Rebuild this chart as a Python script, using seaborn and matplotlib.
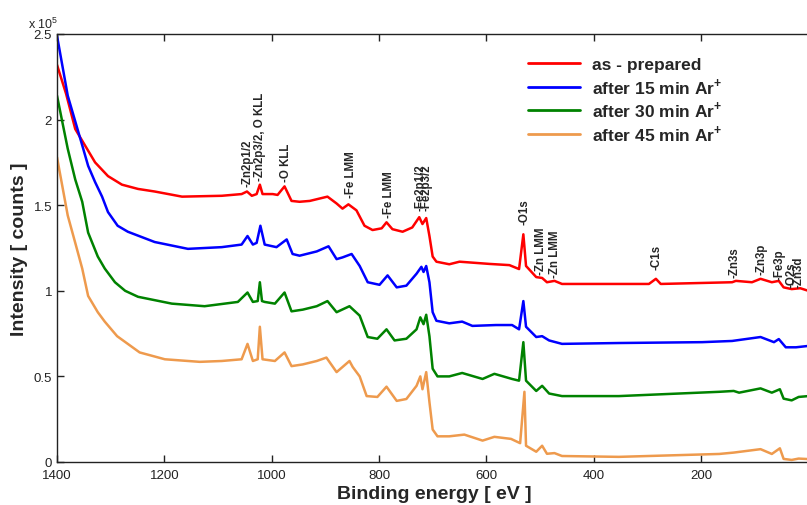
import matplotlib
matplotlib.use("Agg")
import matplotlib.pyplot as plt
from matplotlib.ticker import FuncFormatter
import numpy as np
import pandas as pd
import seaborn as sns

# binding energy [eV] and intensity [x 1e5 counts]
red_E = [1400, 1383, 1366, 1329, 1305, 1279, 1249, 1218, 1167, 1093, 1056, 1046, 1037, 1028, 1022, 1017, 998, 989,
         976, 963, 948, 929, 896, 879, 868, 857, 842, 827, 812, 795, 786, 775, 756, 738, 725, 719,
         712, 706, 700, 693, 669, 650, 594, 557, 539, 531, 526, 507, 496, 487, 473, 459, 353, 297,
         284, 275, 142, 135, 105, 89, 68, 55, 46, 31, 15, 0]
red_I = [2.32, 2.15, 1.945, 1.75, 1.67, 1.62, 1.595, 1.58, 1.55, 1.555, 1.565, 1.58, 1.555, 1.565, 1.62, 1.565, 1.565, 1.56,
         1.61, 1.525, 1.52, 1.525, 1.55, 1.51, 1.48, 1.505, 1.47, 1.38, 1.355, 1.365, 1.40, 1.36, 1.345, 1.37, 1.43, 1.39,
         1.425, 1.32, 1.20, 1.17, 1.155, 1.17, 1.157, 1.15, 1.127, 1.33, 1.145, 1.08, 1.075, 1.05, 1.058, 1.04, 1.04, 1.04,
         1.07, 1.04, 1.05, 1.058, 1.05, 1.07, 1.05, 1.058, 1.02, 1.01, 1.015, 1.00]

blue_E = [1400, 1380, 1353, 1342, 1329, 1316, 1305, 1287, 1268, 1218, 1156, 1093, 1056, 1045, 1035, 1028, 1021, 1013, 991,
          972, 961, 948, 916, 894, 879, 868, 851, 836, 821, 799, 784, 767, 749, 730, 721, 717, 712,
          706, 700, 693, 669, 645, 626, 582, 552, 539, 531, 526, 507, 496, 483, 459, 353, 198, 142,
          89, 64, 55, 42, 23, 0]
blue_I = [2.49, 2.14, 1.85, 1.73, 1.635, 1.55, 1.46, 1.38, 1.345, 1.285, 1.245, 1.255, 1.27, 1.32, 1.27, 1.28, 1.38, 1.27, 1.255,
          1.30, 1.215, 1.205, 1.23, 1.26, 1.185, 1.195, 1.215, 1.145, 1.05, 1.035, 1.09, 1.02, 1.03, 1.10, 1.14, 1.11, 1.145,
          1.05, 0.875, 0.825, 0.81, 0.82, 0.795, 0.80, 0.80, 0.775, 0.94, 0.79, 0.73, 0.735, 0.71, 0.69, 0.695, 0.70, 0.707,
          0.73, 0.70, 0.718, 0.67, 0.67, 0.678]

green_E = [1400, 1380, 1366, 1353, 1342, 1324, 1311, 1292, 1273, 1249, 1186, 1125, 1063, 1045, 1035, 1026, 1022, 1018, 1013, 994,
           976, 963, 942, 916, 896, 879, 855, 836, 821, 803, 786, 771, 749, 730, 723, 717, 712, 706,
           700, 691, 669, 645, 607, 585, 552, 539, 531, 526, 507, 496, 483, 459, 353, 166, 139, 129,
           89, 68, 53, 46, 31, 18, 0]
green_I = [2.14, 1.83, 1.65, 1.52, 1.34, 1.20, 1.13, 1.05, 1.0, 0.965, 0.925, 0.91, 0.935, 0.99, 0.935, 0.94, 1.05, 0.94, 0.935, 0.925,
           0.99, 0.88, 0.89, 0.91, 0.94, 0.875, 0.91, 0.855, 0.73, 0.72, 0.775, 0.71, 0.72, 0.775, 0.845, 0.805, 0.86, 0.735,
           0.545, 0.50, 0.50, 0.52, 0.485, 0.515, 0.485, 0.475, 0.70, 0.475, 0.415, 0.445, 0.40, 0.385, 0.385, 0.41, 0.415, 0.405,
           0.43, 0.405, 0.425, 0.37, 0.36, 0.38, 0.385]

orange_E = [1400, 1380, 1366, 1353, 1342, 1324, 1311, 1288, 1246, 1199, 1134, 1093, 1056, 1045, 1035, 1026, 1022, 1017,
            994, 976, 963, 942, 916, 898, 879, 855, 849, 836, 823, 803, 786, 767, 749, 730, 723, 719,
            712, 706, 700, 691, 669, 641, 607, 585, 554, 537, 529, 526, 507, 496, 487, 473, 459, 353,
            166, 139, 89, 68, 53, 46, 31, 18, 0]
orange_I = [1.78, 1.44, 1.28, 1.13, 0.97, 0.875, 0.82, 0.735, 0.64, 0.60, 0.585, 0.59, 0.60, 0.69, 0.59, 0.60, 0.79, 0.60,
            0.59, 0.64, 0.56, 0.57, 0.59, 0.61, 0.525, 0.59, 0.555, 0.50, 0.385, 0.38, 0.44, 0.357, 0.368, 0.445, 0.50, 0.425,
            0.525, 0.35, 0.19, 0.15, 0.15, 0.16, 0.125, 0.147, 0.135, 0.11, 0.41, 0.095, 0.06, 0.095, 0.048, 0.052, 0.035, 0.03,
            0.047, 0.055, 0.075, 0.047, 0.08, 0.018, 0.012, 0.02, 0.017]

series_names = ["as - prepared", r"after 15 min Ar$^{\mathbf{+}}$",
                r"after 30 min Ar$^{\mathbf{+}}$", r"after 45 min Ar$^{\mathbf{+}}$"]
series_colors = ["#ff0000", "#0000ff", "#008200", "#ee9a4d"]

peak_labels = ["-Zn2p1/2", "-Zn2p3/2, O KLL", "-O KLL", "-Fe LMM", "-Fe LMM", "-Fe2p1/2", "-Fe2p3/2",
               "-O1s", "-Zn LMM", "-Zn LMM", "-C1s", "-Zn3s", "-Zn3p", "-Fe3p", "-O2s", "-Zn3d"]
peak_E = [1045, 1022, 974, 853, 782, 722, 712, 529, 498, 472, 282, 137, 87, 53, 32, 18]
peak_I = [1.61, 1.65, 1.64, 1.55, 1.43, 1.47, 1.47, 1.39, 1.10, 1.08, 1.13, 1.08, 1.10, 1.07, 1.02, 1.02]

sns.set_style("ticks", {"xtick.direction": "in", "ytick.direction": "in"})
plt.rcParams["font.family"] = ["Liberation Sans", "DejaVu Sans"]
plt.rcParams["mathtext.fontset"] = "custom"
plt.rcParams["mathtext.rm"] = "Liberation Sans"
plt.rcParams["mathtext.bf"] = "Liberation Sans:bold"

fig = plt.figure(figsize=(8.07, 5.06), dpi=100)
ax = fig.add_axes([57 / 807, 43 / 506, 754 / 807, 428 / 506])

all_E = [red_E, blue_E, green_E, orange_E]
all_I = [red_I, blue_I, green_I, orange_I]
for E, I, name, col in zip(all_E, all_I, series_names, series_colors):
    df = pd.DataFrame({"E": E, "I": I})
    sns.lineplot(data=df, x="E", y="I", color=col, lw=1.8, label=name, ax=ax,
                 sort=False, estimator=None)

for lab, e, i in zip(peak_labels, peak_E, peak_I):
    ax.text(e, i, lab, rotation=90, ha="center", va="bottom", fontsize=8.3,
            fontweight="bold", clip_on=False)

ax.set_xlim(1400, -5)
ax.set_ylim(0, 2.5)
ax.set_xticks([1400, 1200, 1000, 800, 600, 400, 200])
ax.set_yticks([0, 0.5, 1, 1.5, 2, 2.5])
ax.yaxis.set_major_formatter(FuncFormatter(lambda v, p: "%g" % v))
ax.tick_params(axis="both", labelsize=9.5, colors="#222222", length=5, width=1,
               top=True, direction="in")
ax.tick_params(axis="x", pad=5)
for s in ax.spines.values():
    s.set_linewidth(1.0)
    s.set_color("#222222")

ax.set_xlabel("Binding energy [ eV ]", fontsize=14, fontweight="bold", labelpad=3)
ax.set_ylabel("Intensity [ counts ]", fontsize=14, fontweight="bold", labelpad=4)
fig.text(28 / 807, 1 - 29 / 506, "x 10$^5$", fontsize=9, va="baseline", ha="left")

leg = ax.legend(loc="upper left", bbox_to_anchor=(519 / 807, 1 - 49 / 506),
                bbox_transform=fig.transFigure, frameon=False, borderpad=0,
                prop={"weight": "bold", "size": 12.5}, handlelength=3.0,
                handletextpad=0.7, labelspacing=0.22)
for h in leg.get_lines():
    h.set_linewidth(2.0)

fig.savefig("out.png", dpi=100)
